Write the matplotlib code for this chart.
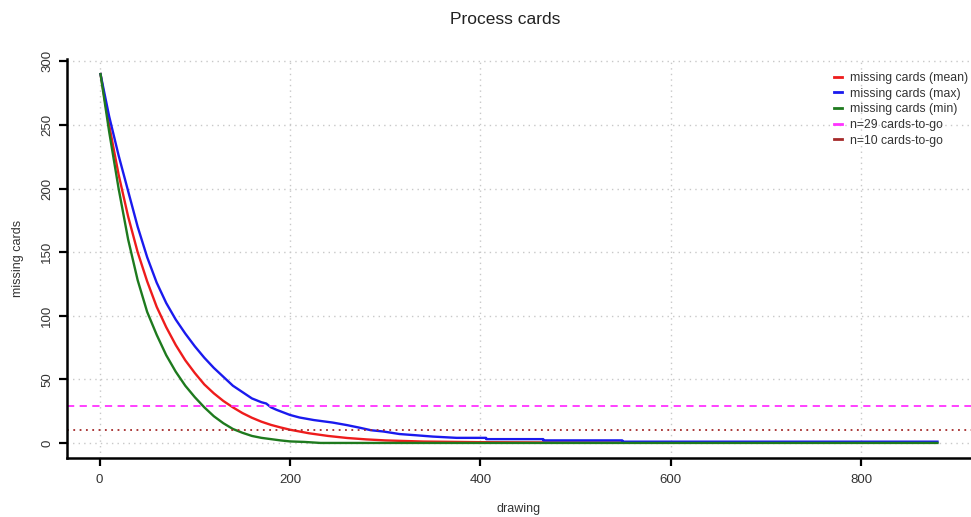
import matplotlib
matplotlib.use("Agg")
from matplotlib import pyplot as plt

plt.rcParams['font.family'] = ['Liberation Sans', 'DejaVu Sans']

# missing cards per drawing: mean over runs
mean_draw = [1, 10, 20, 30, 40, 50, 60, 70, 80, 90, 100, 110, 120, 130, 140, 150,
             160, 170, 180, 190, 200, 220, 240, 260, 280, 300, 340, 400, 460, 549]
mean_cards = [290, 250, 211, 178, 150, 127, 107, 91, 77, 65, 55, 46, 39, 33, 28, 23.5,
              19.8, 16.7, 14.2, 12.2, 10.4, 7.6, 5.5, 3.9, 2.8, 2.0, 1.1, 0.6, 0.4, 0.3]

# worst run (max missing cards)
max_draw = [1, 10, 20, 30, 40, 50, 60, 70, 80, 90, 100, 110, 120, 130, 140, 150, 160,
            170, 175, 180, 186, 200, 210, 225, 245, 260, 273, 285, 298, 315, 333, 350,
            375, 406, 406, 466, 466, 549, 549, 880]
max_cards = [290, 257, 226, 198, 170, 146, 126, 110, 97, 86, 76, 67, 59, 52, 45, 40, 35,
             32, 31, 28, 26, 22, 20, 18, 16, 14, 12, 10, 9, 7, 6, 5,
             4, 4, 3, 3, 2, 2, 1, 1]

# best run (min missing cards)
min_draw = [1, 10, 20, 30, 40, 50, 60, 70, 80, 90, 100, 110, 120, 130, 140, 150, 160,
            170, 180, 190, 200, 215, 232, 880]
min_cards = [290, 245, 200, 160, 128, 103, 85, 69, 56, 45, 36, 28, 21, 15.5, 11, 8, 5.5,
             4, 3, 2, 1.2, 0.8, 0, 0]

togo_levels = [29, 10]
togo_labels = ['n=29 cards-to-go', 'n=10 cards-to-go']

x_ticks = [0, 200, 400, 600, 800]
y_ticks = [0, 50, 100, 150, 200, 250, 300]

fig = plt.figure(figsize=(9.71, 5.17), dpi=100)
ax = fig.add_axes([67 / 971, 59.3 / 517, 904 / 971, 398.4 / 517])

ax.set_xlim(-34.2, 915.2)
ax.set_ylim(-11.6, 301.6)

# grid first so the curves sit on top
for gx in x_ticks:
    ax.axvline(gx, color='#c8c8c8', linestyle=(0, (1, 3)), linewidth=1, zorder=0)
for gy in y_ticks:
    ax.axhline(gy, color='#c8c8c8', linestyle=(0, (1, 3)), linewidth=1, zorder=0)

ax.plot(mean_draw, mean_cards, color='#ee1c1c', linewidth=1.7, label='missing cards (mean)')
ax.plot(max_draw, max_cards, color='#1a1aee', linewidth=1.7, label='missing cards (max)')
ax.plot(min_draw, min_cards, color='#1e7a1e', linewidth=1.7, label='missing cards (min)')
ax.axhline(togo_levels[0], color='#ff33ff', linestyle=(0, (4, 3)), linewidth=1.3,
           label=togo_labels[0])
ax.axhline(togo_levels[1], color='#a52a2a', linestyle=(0, (1, 2.5)), linewidth=1.3,
           label=togo_labels[1])

for side in ['top', 'right']:
    ax.spines[side].set_visible(False)
for side in ['left', 'bottom']:
    ax.spines[side].set_linewidth(1.8)

ax.set_xticks(x_ticks)
ax.set_yticks(y_ticks)
ax.tick_params(axis='both', length=6, width=1.6, labelsize=9.5, labelcolor='#333333')
ax.tick_params(axis='x', pad=6)
ax.tick_params(axis='y', pad=4)
plt.setp(ax.get_yticklabels(), rotation=90, va='center')

ax.set_xlabel('drawing', fontsize=9, color='#333333', labelpad=12)
ax.set_ylabel('missing cards', fontsize=9, color='#333333', labelpad=12)
fig.text(505 / 971, 1 - 20 / 517, 'Process cards', ha='center', va='center', fontsize=12.5,
         color='#222222')

leg = ax.legend(loc='upper left', bbox_to_anchor=(829 / 971, 1 - 67 / 517),
                bbox_transform=fig.transFigure, frameon=False, fontsize=8.8,
                handlelength=0.7, handletextpad=0.6, labelspacing=0.3, borderaxespad=0)
for line in leg.get_lines():
    line.set_linestyle('-')
    line.set_linewidth(2)
for txt in leg.get_texts():
    txt.set_color('#333333')

fig.savefig('out.png', dpi=100)
